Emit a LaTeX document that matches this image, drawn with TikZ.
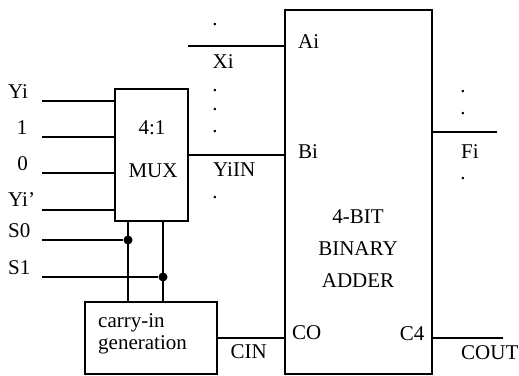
\documentclass[tikz,border=0pt]{standalone}
\usepackage{fontspec}
\setmainfont{Liberation Serif}
\tikzset{
  x=1pt,y=-1pt,
  block/.style={draw,line width=2pt,inner sep=0pt,outer sep=0pt,anchor=north west,fill=white},
  wire/.style={line width=2pt},
  lbl/.style={inner sep=0pt,anchor=base west,font=\fontsize{21}{24}\selectfont},
  clbl/.style={lbl,anchor=base},
  rlbl/.style={lbl,anchor=base east},
  vdot/.style={inner sep=0pt,anchor=base,font=\fontsize{21}{24}\selectfont},
  junction/.style={circle,fill=black,inner sep=0pt,minimum size=9pt}
}
\begin{document}
\begin{tikzpicture}
\useasboundingbox (0,0) rectangle (519,375);
\node[block,minimum width=73pt,minimum height=132pt] (mux) at (115,89) {};
\node[block,minimum width=147pt,minimum height=364pt] (adder) at (285,10) {};
\node[block,minimum width=132pt,minimum height=72pt] (carry) at (85,302) {};
% free ends
\coordinate (i1) at (42,101);
\coordinate (i2) at (42,137);
\coordinate (i3) at (42,173);
\coordinate (i4) at (42,210);
\coordinate (s0) at (42,240);
\coordinate (s1) at (42,277);
\coordinate (xi) at (188,46);
\coordinate (fi) at (497,132);
\coordinate (cout) at (503,338);
\coordinate (cin) at (217,338);
\coordinate (yin) at (188,155);
\coordinate (j0x) at (128,240);
\coordinate (j1x) at (163,277);
\node[junction] (j0) at (j0x) {};
\node[junction] (j1) at (j1x) {};
% wires
\foreach \n in {i1,i2,i3,i4} \draw[wire] (\n) -- (\n -| mux.west);
\draw[wire] (xi) -- (xi -| adder.west);
\draw[wire] (yin) -- (yin -| adder.west);
\draw[wire] (cin) -- (cin -| adder.west);
\draw[wire] (fi -| adder.east) -- (fi);
\draw[wire] (cout -| adder.east) -- (cout);
\draw[wire] (s0) -- (j0);
\draw[wire] (s1) -- (j1);
\draw[wire] (j0 |- mux.south) -- (j0 |- carry.north);
\draw[wire] (j1 |- mux.south) -- (j1 |- carry.north);
% labels
\node[lbl] (lyi) at (8,98) {Yi};
\node[clbl] (l1) at (22,134) {1};
\node[clbl] (l0) at (22.5,170) {0};
\node[lbl] (lyp) at (8,206) {Yi’};
\node[lbl] (ls0) at (8,237) {S0};
\node[lbl] (ls1) at (8,274) {S1};
\node[clbl] (m1) at (152,134) {4:1};
\node[clbl] (m2) at (153,177) {MUX};
\node[lbl] (lxi) at (212.5,68) {Xi};
\node[lbl] (lyin) at (213,176) {YiIN};
\node[lbl] (lai) at (298,48) {Ai};
\node[lbl] (lbi) at (298,158) {Bi};
\node[lbl] (lco) at (292,339) {CO};
\node[lbl] (lcin) at (230.5,358) {CIN};
\node[lbl] (lc1) at (98,327) {carry-in};
\node[lbl] (lc2) at (98,349) {generation};
\node[rlbl] (lc4) at (424.5,340) {C4};
\node[lbl] (lcout) at (461,359) {COUT};
\node[lbl] (lfi) at (461,158) {Fi};
\node[clbl] (a1) at (358,223) {4-BIT};
\node[clbl] (a2) at (358,255) {BINARY};
\node[clbl] (a3) at (358,287) {ADDER};
% dots
\node[vdot] (d1) at (215,25) {.};
\node[vdot] (d2) at (215,91) {.};
\node[vdot] (d3) at (215,110) {.};
\node[vdot] (d4) at (215,132) {.};
\node[vdot] (d5) at (215,198) {.};
\node[vdot] (d6) at (463,92) {.};
\node[vdot] (d7) at (463,114) {.};
\node[vdot] (d8) at (463,179) {.};
\end{tikzpicture}
\end{document}
